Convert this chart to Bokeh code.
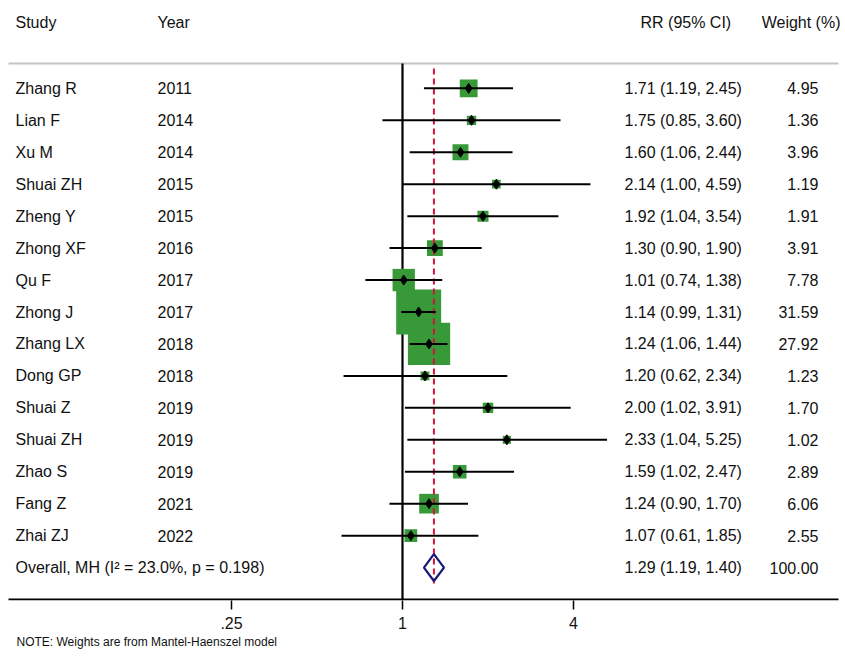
import numpy as np
from bokeh.plotting import figure
from bokeh.models import Range1d, LinearScale, FixedTicker, Title, ColumnDataSource
from bokeh.core.properties import value
from bokeh.embed import file_html
from bokeh.resources import INLINE

# ---- data ----
studies = ["Zhang R", "Lian F", "Xu M", "Shuai ZH", "Zheng Y", "Zhong XF", "Qu F",
           "Zhong J", "Zhang LX", "Dong GP", "Shuai Z", "Shuai ZH", "Zhao S", "Fang Z", "Zhai ZJ"]
years = [2011, 2014, 2014, 2015, 2015, 2016, 2017, 2017, 2018, 2018, 2019, 2019, 2019, 2021, 2022]
rr = [1.71, 1.75, 1.60, 2.14, 1.92, 1.30, 1.01, 1.14, 1.24, 1.20, 2.00, 2.33, 1.59, 1.24, 1.07]
ci_lo = [1.19, 0.85, 1.06, 1.00, 1.04, 0.90, 0.74, 0.99, 1.06, 0.62, 1.02, 1.04, 1.02, 0.90, 0.61]
ci_hi = [2.45, 3.60, 2.44, 4.59, 3.54, 1.90, 1.38, 1.31, 1.44, 2.34, 3.91, 5.25, 2.47, 1.70, 1.85]
weights = [4.95, 1.36, 3.96, 1.19, 1.91, 3.91, 7.78, 31.59, 27.92, 1.23, 1.70, 1.02, 2.89, 6.06, 2.55]

overall_label = "Overall, MH (I\u00b2 = 23.0%, p = 0.198)"
overall_rr = 1.29
overall_lo = 1.19
overall_hi = 1.40
overall_weight = 100.00

headers = ["Study", "Year", "RR (95% CI)", "Weight (%)"]
tick_values = [0.25, 1, 4]
tick_labels = [".25", "1", "4"]
note = "NOTE: Weights are from Mantel-Haenszel model"

# ---- layout ----
W, H = 845, 656
PX_PER_DOUBLING = 85.5
ONE_PX = 402.0          # frame x of value 1
FONT = "Liberation Sans"
FS = "16px"
TXT = "#111111"

x_start = 2 ** (-ONE_PX / PX_PER_DOUBLING)
x_end = 2 ** ((W - ONE_PX) / PX_PER_DOUBLING)

p = figure(width=W, height=H, x_axis_type="log", output_backend="svg",
           toolbar_location=None, x_range=Range1d(x_start, x_end),
           y_range=Range1d(-16.03, 2.75),
           min_border_left=0, min_border_right=0, min_border_top=0, min_border_bottom=56)
p.extra_x_ranges = {"px": Range1d(0, W)}
p.extra_x_scales = {"px": LinearScale()}
p.outline_line_color = None
p.xgrid.visible = False
p.ygrid.visible = False
p.yaxis.visible = False
p.background_fill_color = "white"
p.border_fill_color = "white"

n = len(studies)
ys = [-i for i in range(n)]
y_over = -n

src = ColumnDataSource(dict(
    y=ys, study=studies, year=[str(v) for v in years], rr=rr, lo=ci_lo, hi=ci_hi,
    size=[8.0 * np.sqrt(w) for w in weights],
    rrtxt=[f"{a:.2f} ({b:.2f}, {c:.2f})" for a, b, c in zip(rr, ci_lo, ci_hi)],
    wtxt=[f"{w:.2f}" for w in weights],
))

def txt(x, y, text, align="left", **kw):
    p.text(x=x, y=y, text=text, x_range_name="px", text_font=value(FONT),
           text_font_size=FS, text_baseline="middle", text_align=align,
           text_color=TXT, **kw)

# header text & rule
hy = 2.06
txt([15], [hy], [headers[0]])
txt([157], [hy], [headers[1]])
txt([640], [hy], [headers[2]])
txt([840], [hy], [headers[3]], align="right")
p.segment(x0=[8], y0=[0.78], x1=[838], y1=[0.78], x_range_name="px",
          line_color="#c4c4c4", line_width=2)

# axis baseline (drawn across the plot width like the reference)
p.segment(x0=[8], y0=[-16], x1=[838], y1=[-16], x_range_name="px",
          line_color="black", line_width=2)

# reference line at 1
p.segment(x0=[1], y0=[0.78], x1=[1], y1=[-16], line_color="black", line_width=2.2)

# boxes
p.scatter(x="rr", y="y", size="size", marker="square", source=src,
          fill_color="#379937", line_color=None)

# overall dashed line
p.segment(x0=[overall_rr], y0=[0.62], x1=[overall_rr], y1=[y_over - 0.5],
          line_color="#d2143a", line_width=2, line_dash="6 4")

# CI lines and point estimates
p.segment(x0="lo", y0="y", x1="hi", y1="y", source=src, line_color="black", line_width=2)
p.scatter(x="rr", y="y", size=10, marker="diamond", source=src,
          fill_color="black", line_color="black")

# overall diamond
p.patch(x=[overall_lo, overall_rr, overall_hi, overall_rr],
        y=[y_over, y_over + 0.42, y_over, y_over - 0.42],
        fill_color=None, line_color="#15177a", line_width=2.2)

# text columns
txt(15, "y", "study", source=src)
txt(157, "y", "year", source=src)
txt(624, "y", "rrtxt", source=src)
txt(818, "y", "wtxt", align="right", source=src)

txt([15], [y_over], [overall_label])
txt([624], [y_over], [f"{overall_rr:.2f} ({overall_lo:.2f}, {overall_hi:.2f})"])
txt([818], [y_over], [f"{overall_weight:.2f}"], align="right")

# x axis
ax = p.xaxis[0]
ax.ticker = FixedTicker(ticks=tick_values, minor_ticks=[])
ax.major_label_overrides = {k: v for k, v in zip(tick_values, tick_labels)}
ax.axis_line_color = None
ax.major_tick_line_color = "black"
ax.major_tick_line_width = 1.5
ax.major_tick_out = 9
ax.major_tick_in = 0
ax.minor_tick_line_color = None
ax.major_label_standoff = 7
ax.major_label_text_font = FONT
ax.major_label_text_font_size = FS
ax.major_label_text_color = TXT

p.add_layout(Title(text=note, text_font=FONT, text_font_size="12px", text_font_style="normal",
                   align="left", offset=16, standoff=3, text_color=TXT), "below")

open("out.html", "w").write(file_html(p, INLINE))
